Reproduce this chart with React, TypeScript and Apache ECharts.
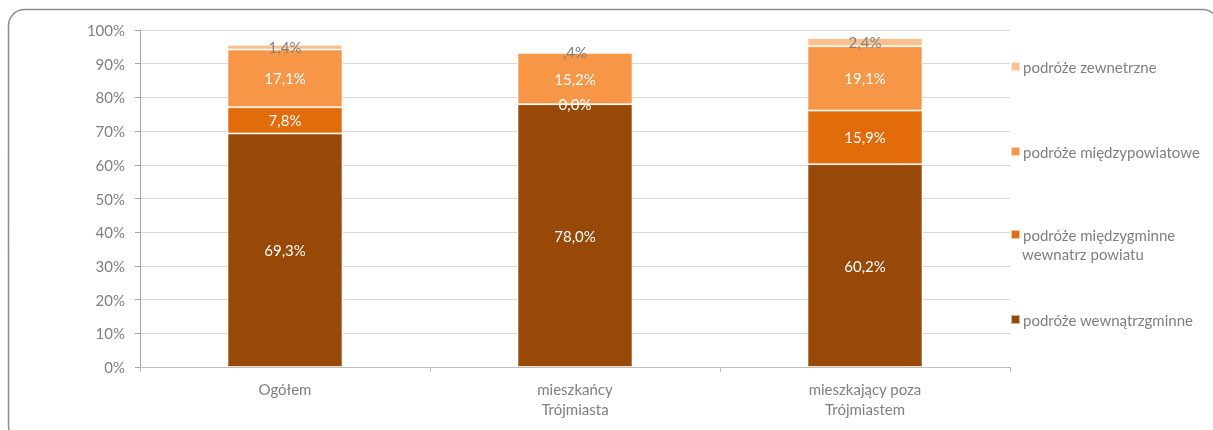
import React, { useEffect, useRef } from "react";
import * as echarts from "echarts";

const categories = ["Ogółem", "mieszkańcy\nTrójmiasta", "mieszkający poza\nTrójmiastem"];
const seriesNames = [
  "podróże wewnątrzgminne",
  "podróże międzygminne wewnatrz powiatu",
  "podróże międzypowiatowe",
  "podróże zewnetrzne",
];
const wewnatrzgminne = [69.3, 78.0, 60.2];
const miedzygminne = [7.8, 0.0, 15.9];
const miedzypowiatowe = [17.1, 15.2, 19.1];
const zewnetrzne = [1.4, 0.4, 2.4];
const colors = ["#984807", "#E36C0A", "#F79646", "#FAC090"];
const labelColors = ["#ffffff", "#ffffff", "#ffffff", "#7f7f7f"];
const yTicks = [0, 10, 20, 30, 40, 50, 60, 70, 80, 90, 100];

const FONT = "Lato";
const FS = 15;

const fmt = (v: number) => {
  if (v > 0 && v < 1) return "," + Math.round(v * 10) + "%";
  return v.toFixed(1).replace(".", ",") + "%";
};

export default function App() {
  const ref = useRef<HTMLDivElement>(null);
  useEffect(() => {
    if (!ref.current) return;
    const chart = echarts.init(ref.current, undefined, { renderer: "svg" });
    const datas = [wewnatrzgminne, miedzygminne, miedzypowiatowe, zewnetrzne];
    const legendTops = [307, 222, 139, 54];
    chart.setOption({
      animation: false,
      textStyle: { fontFamily: FONT },
      grid: { left: 140, right: 203, top: 30, bottom: 63, containLabel: false },
      xAxis: {
        type: "category",
        data: categories,
        boundaryGap: true,
        axisLine: { show: true, lineStyle: { color: "#bfbfbf", width: 1 } },
        axisTick: { show: true, length: 5, lineStyle: { color: "#bfbfbf" } },
        axisLabel: { color: "#7f7f7f", fontSize: FS, fontFamily: FONT, margin: 12, lineHeight: 20 },
      },
      yAxis: {
        type: "value",
        min: yTicks[0],
        max: yTicks[yTicks.length - 1],
        interval: 10,
        axisLine: { show: true, lineStyle: { color: "#a6a6a6", width: 1 } },
        axisTick: { show: true, length: 5, lineStyle: { color: "#a6a6a6" } },
        axisLabel: { color: "#7f7f7f", fontSize: FS, fontFamily: FONT, margin: 15, formatter: "{value}%" },
        splitLine: { show: true, lineStyle: { color: "#d9d9d9", width: 1 } },
      },
      legend: seriesNames.map((n, i) => ({
        data: [n],
        orient: "vertical",
        left: 1005,
        top: legendTops[i],
        itemWidth: 9,
        itemHeight: 9,
        itemGap: 3,
        icon: "rect",
        selectedMode: false,
        formatter: (name: string) => (name.startsWith("podróże międzygminne") ? "podróże międzygminne" : name),
        textStyle: { color: "#7f7f7f", fontSize: FS, fontFamily: FONT, padding: [0, 0, 0, -2] },
      })),
      graphic: [
        {
          type: "rect",
          shape: { x: 8.5, y: 9.5, width: 1210, height: 432, r: 16 },
          style: { fill: "none", stroke: "#8c8c8c", lineWidth: 1.5 },
          silent: true,
        },
        {
          type: "text",
          left: 1022,
          top: 246,
          style: { text: "wewnatrz powiatu", fill: "#7f7f7f", font: `${FS}px ${FONT}` },
        },
      ],
      series: seriesNames.map((n, i) => ({
        name: n,
        type: "bar",
        stack: "total",
        barWidth: 115,
        data: datas[i],
        itemStyle: { color: colors[i], borderColor: "rgba(255,255,255,0.6)", borderWidth: 1 },
        label: {
          show: true,
          position: "inside",
          color: labelColors[i],
          fontSize: FS,
          fontFamily: FONT,
          formatter: (p: any) => fmt(p.value),
        },
      })),
    });
    return () => chart.dispose();
  }, []);
  return <div ref={ref} style={{ position: "fixed", left: 0, top: 0, width: 1213, height: 430 }} />;
}
